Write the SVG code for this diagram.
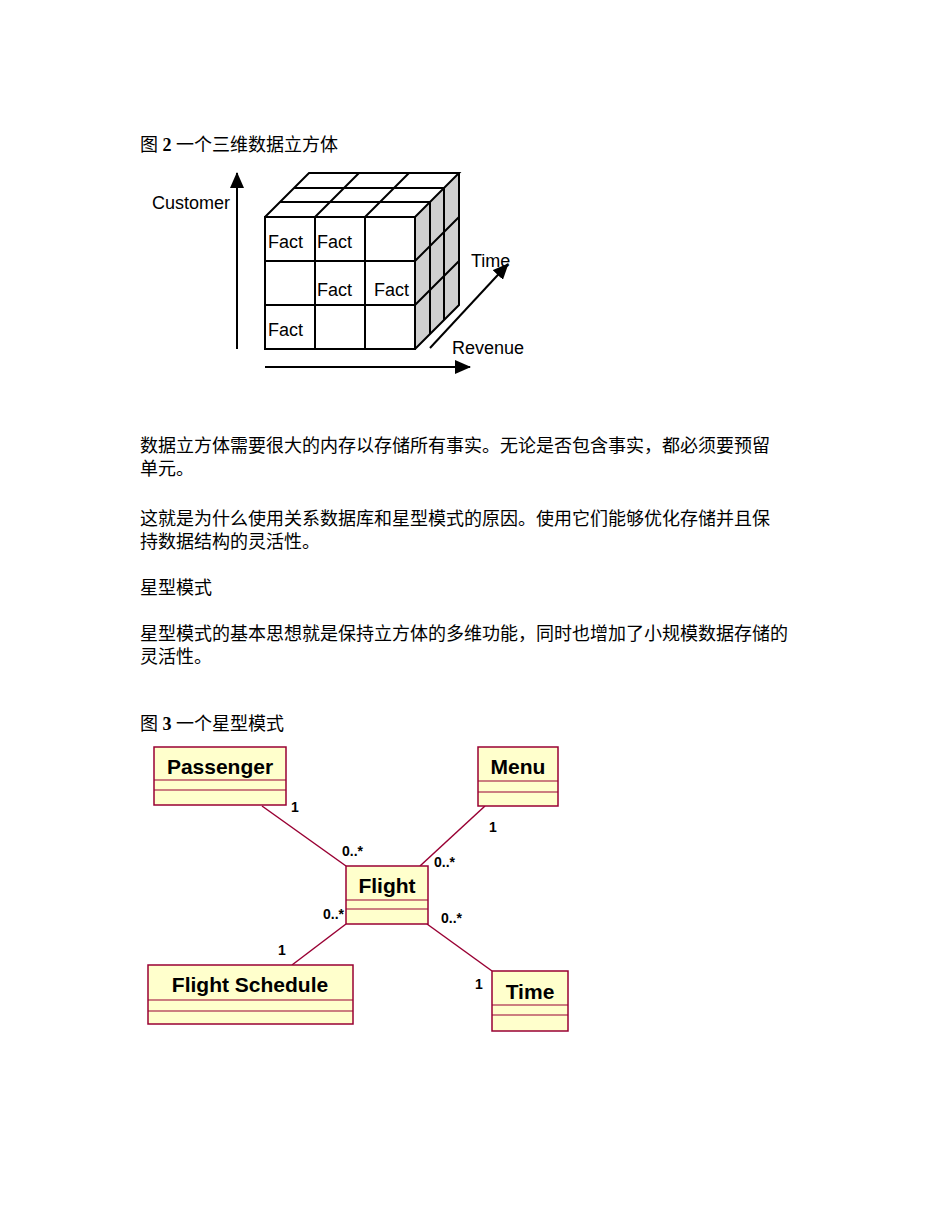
<svg xmlns="http://www.w3.org/2000/svg" width="950" height="1230" viewBox="0 0 950 1230">
<style>
.t{font-family:"Liberation Serif","Noto Sans CJK SC",serif;font-size:18px;fill:#000}
.c{font-family:"Liberation Sans",Arial,sans-serif;font-size:18px;fill:#000}
.g{stroke:#000;stroke-width:2;fill:none}
.box{fill:#ffffcc;stroke:#990033;stroke-width:1.5}
.sep{stroke:#990033;stroke-width:1.2}
.n{font-family:"Liberation Sans",Arial,sans-serif;font-weight:bold;font-size:21px;fill:#000;text-anchor:middle}
.m{font-family:"Liberation Sans",Arial,sans-serif;font-weight:bold;font-size:14px;fill:#000}
.e{stroke:#990033;stroke-width:1.5}
</style>
<defs><marker id="ar2" markerWidth="16" markerHeight="14" refX="15" refY="7" orient="auto" markerUnits="userSpaceOnUse"><path d="M0,0L16,7L0,14z" fill="#000"/></marker></defs>
<text class="t" x="140" y="151">图 <tspan font-weight="bold">2</tspan> 一个三维数据立方体</text>
<g id="cube">
<polygon points="415,217 459,173 459,305 415,349" fill="#d0d0d0"/>
<g class="g">
<rect x="265" y="217" width="150" height="132" fill="#fff"/>
<path d="M315,217V349M365,217V349M265,261H415M265,305H415"/>
<path d="M265,217L309,173H459L415,217M459,173V305L415,349"/>
<path d="M315,217L359,173M365,217L409,173M280,202H430M294,188H444"/>
<path d="M430,202V334M444,188V320M415,261L459,217M415,305L459,261"/>
</g>
<text class="c" x="268" y="248">Fact</text><text class="c" x="317" y="248">Fact</text>
<text class="c" x="317" y="296">Fact</text><text class="c" x="374" y="296">Fact</text>
<text class="c" x="268" y="336">Fact</text>
</g>
<g id="axes" class="g">
<line x1="237" y1="349" x2="237" y2="173" marker-end="url(#ar2)"/>
<line x1="265" y1="367" x2="470" y2="367" marker-end="url(#ar2)"/>
<line x1="430" y1="348" x2="508" y2="264" marker-end="url(#ar2)"/>
</g>
<text class="c" x="152" y="209">Customer</text>
<text class="c" x="471" y="267">Time</text>
<text class="c" x="452" y="354">Revenue</text>
<text class="t" x="140" y="452">数据立方体需要很大的内存以存储所有事实。无论是否包含事实，都必须要预留</text>
<text class="t" x="140" y="475">单元。</text>
<text class="t" x="140" y="525">这就是为什么使用关系数据库和星型模式的原因。使用它们能够优化存储并且保</text>
<text class="t" x="140" y="548">持数据结构的灵活性。</text>
<text class="t" x="140" y="594">星型模式</text>
<text class="t" x="140" y="640">星型模式的基本思想就是保持立方体的多维功能，同时也增加了小规模数据存储的</text>
<text class="t" x="140" y="663">灵活性。</text>
<text class="t" x="140" y="730">图 <tspan font-weight="bold">3</tspan> 一个星型模式</text>
<g id="edges">
<line class="e" x1="262" y1="806" x2="346" y2="866"/>
<line class="e" x1="485" y1="806" x2="420" y2="866"/>
<line class="e" x1="346" y1="924" x2="292" y2="965"/>
<line class="e" x1="427" y1="924" x2="492" y2="971"/>
<text class="m" x="291" y="812">1</text><text class="m" x="342" y="856">0..*</text>
<text class="m" x="489" y="832">1</text><text class="m" x="434" y="867">0..*</text>
<text class="m" x="323" y="919">0..*</text><text class="m" x="278" y="955">1</text>
<text class="m" x="441" y="923">0..*</text><text class="m" x="475" y="989">1</text>
</g>
<g id="passenger"><rect class="box" x="154" y="747" width="132" height="58" stroke-width="2"/><line class="sep" x1="154" y1="780" x2="286" y2="780"/><line class="sep" x1="154" y1="790" x2="286" y2="790" stroke-width="2"/><text class="n" x="220" y="774">Passenger</text></g>
<g id="menu"><rect class="box" x="478" y="747" width="80" height="59"/><line class="sep" x1="478" y1="781" x2="558" y2="781"/><line class="sep" x1="478" y1="792" x2="558" y2="792"/><text class="n" x="518" y="774">Menu</text></g>
<g id="flight"><rect class="box" x="346" y="866" width="82" height="58"/><line class="sep" x1="346" y1="900" x2="428" y2="900"/><line class="sep" x1="346" y1="909" x2="428" y2="909"/><text class="n" x="387" y="893">Flight</text></g>
<g id="schedule"><rect class="box" x="148" y="965" width="205" height="59"/><line class="sep" x1="148" y1="1000" x2="353" y2="1000"/><line class="sep" x1="148" y1="1011" x2="353" y2="1011"/><text class="n" x="250" y="992">Flight Schedule</text></g>
<g id="time"><rect class="box" x="492" y="971" width="76" height="60"/><line class="sep" x1="492" y1="1005" x2="568" y2="1005"/><line class="sep" x1="492" y1="1015" x2="568" y2="1015"/><text class="n" x="530" y="999">Time</text></g>
</svg>
